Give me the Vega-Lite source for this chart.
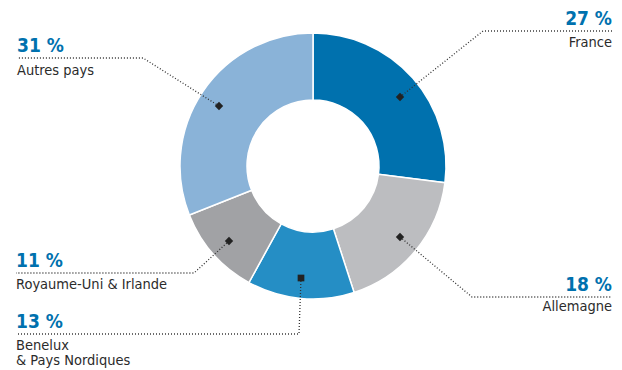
{
  "$schema": "https://vega.github.io/schema/vega-lite/v6.json",
  "width": 622,
  "height": 370,
  "padding": 0,
  "autosize": {"type": "none"},
  "background": "white",
  "config": {"view": {"stroke": null}},
  "datasets": {
    "parts": [
      {"pays": "France", "part": 27, "ordre": 1},
      {"pays": "Allemagne", "part": 18, "ordre": 2},
      {"pays": "Benelux & Pays Nordiques", "part": 13, "ordre": 3},
      {"pays": "Royaume-Uni & Irlande", "part": 11, "ordre": 4},
      {"pays": "Autres pays", "part": 31, "ordre": 5}
    ],
    "leaders": [
      {"pays": "France", "pt": 0, "x": 400, "y": 97},
      {"pays": "France", "pt": 1, "x": 483, "y": 31},
      {"pays": "France", "pt": 2, "x": 612, "y": 31},
      {"pays": "Autres pays", "pt": 0, "x": 219, "y": 106},
      {"pays": "Autres pays", "pt": 1, "x": 143, "y": 58},
      {"pays": "Autres pays", "pt": 2, "x": 17, "y": 58},
      {"pays": "Allemagne", "pt": 0, "x": 400, "y": 237},
      {"pays": "Allemagne", "pt": 1, "x": 472, "y": 297},
      {"pays": "Allemagne", "pt": 2, "x": 612, "y": 297},
      {"pays": "Royaume-Uni & Irlande", "pt": 0, "x": 229, "y": 241},
      {"pays": "Royaume-Uni & Irlande", "pt": 1, "x": 194, "y": 273},
      {"pays": "Royaume-Uni & Irlande", "pt": 2, "x": 16, "y": 273},
      {"pays": "Benelux & Pays Nordiques", "pt": 0, "x": 301, "y": 278},
      {"pays": "Benelux & Pays Nordiques", "pt": 1, "x": 299, "y": 334},
      {"pays": "Benelux & Pays Nordiques", "pt": 2, "x": 16, "y": 334}
    ],
    "pcts": [
      {"txt": "27 %", "x": 612, "y": 25, "side": "right"},
      {"txt": "31 %", "x": 17, "y": 52, "side": "left"},
      {"txt": "18 %", "x": 612, "y": 291, "side": "right"},
      {"txt": "11 %", "x": 16, "y": 267, "side": "left"},
      {"txt": "13 %", "x": 16, "y": 328, "side": "left"}
    ],
    "names": [
      {"txt": "France", "x": 612, "y": 47, "side": "right"},
      {"txt": "Autres pays", "x": 17, "y": 75, "side": "left"},
      {"txt": "Allemagne", "x": 612, "y": 311, "side": "right"},
      {"txt": "Royaume-Uni & Irlande", "x": 16, "y": 289, "side": "left"},
      {"txt": "Benelux", "x": 16, "y": 350, "side": "left"},
      {"txt": "& Pays Nordiques", "x": 16, "y": 365, "side": "left"}
    ]
  },
  "resolve": {"scale": {"x": "shared", "y": "shared"}},
  "layer": [
    {
      "data": {"name": "parts"},
      "mark": {"type": "arc", "outerRadius": 133, "innerRadius": 66, "stroke": "white", "strokeWidth": 1.5},
      "encoding": {
        "x": {"datum": 313, "type": "quantitative", "scale": {"domain": [0, 622], "nice": false, "zero": false}, "axis": null},
        "y": {"datum": 166, "type": "quantitative", "scale": {"domain": [0, 370], "reverse": true, "nice": false, "zero": false}, "axis": null},
        "theta": {"field": "part", "type": "quantitative", "stack": true},
        "order": {"field": "ordre", "type": "quantitative"},
        "color": {
          "field": "pays", "type": "nominal", "legend": null,
          "scale": {
            "domain": ["France", "Allemagne", "Benelux & Pays Nordiques", "Royaume-Uni & Irlande", "Autres pays"],
            "range": ["#0071ae", "#bcbdc0", "#258ec5", "#a1a2a5", "#8ab3d8"]
          }
        }
      }
    },
    {
      "data": {"name": "leaders"},
      "mark": {"type": "line", "stroke": "#333333", "strokeWidth": 1.3, "strokeDash": [1, 2]},
      "encoding": {
        "x": {"field": "x", "type": "quantitative", "axis": null},
        "y": {"field": "y", "type": "quantitative", "axis": null},
        "detail": {"field": "pays"},
        "order": {"field": "pt", "type": "quantitative"}
      }
    },
    {
      "data": {"name": "leaders"},
      "transform": [{"filter": "datum.pt == 0 && datum.pays != 'Benelux & Pays Nordiques'"}],
      "mark": {"type": "point", "shape": "diamond", "filled": true, "color": "#222222", "size": 70, "opacity": 1},
      "encoding": {
        "x": {"field": "x", "type": "quantitative", "axis": null},
        "y": {"field": "y", "type": "quantitative", "axis": null}
      }
    },
    {
      "data": {"name": "leaders"},
      "transform": [{"filter": "datum.pt == 0 && datum.pays == 'Benelux & Pays Nordiques'"}],
      "mark": {"type": "point", "shape": "square", "filled": true, "color": "#222222", "size": 45, "opacity": 1},
      "encoding": {
        "x": {"field": "x", "type": "quantitative", "axis": null},
        "y": {"field": "y", "type": "quantitative", "axis": null}
      }
    },
    {
      "data": {"name": "pcts"},
      "transform": [{"filter": "datum.side == 'left'"}],
      "mark": {"type": "text", "align": "left", "baseline": "alphabetic", "font": "DejaVu Sans Condensed, sans-serif", "fontSize": 19, "fontWeight": "bold", "color": "#0071ae"},
      "encoding": {
        "x": {"field": "x", "type": "quantitative", "axis": null},
        "y": {"field": "y", "type": "quantitative", "axis": null},
        "text": {"field": "txt"}
      }
    },
    {
      "data": {"name": "pcts"},
      "transform": [{"filter": "datum.side == 'right'"}],
      "mark": {"type": "text", "align": "right", "baseline": "alphabetic", "font": "DejaVu Sans Condensed, sans-serif", "fontSize": 19, "fontWeight": "bold", "color": "#0071ae"},
      "encoding": {
        "x": {"field": "x", "type": "quantitative", "axis": null},
        "y": {"field": "y", "type": "quantitative", "axis": null},
        "text": {"field": "txt"}
      }
    },
    {
      "data": {"name": "names"},
      "transform": [{"filter": "datum.side == 'left'"}],
      "mark": {"type": "text", "align": "left", "baseline": "alphabetic", "font": "DejaVu Sans Condensed, sans-serif", "fontSize": 14.5, "color": "#2b2b2b"},
      "encoding": {
        "x": {"field": "x", "type": "quantitative", "axis": null},
        "y": {"field": "y", "type": "quantitative", "axis": null},
        "text": {"field": "txt"}
      }
    },
    {
      "data": {"name": "names"},
      "transform": [{"filter": "datum.side == 'right'"}],
      "mark": {"type": "text", "align": "right", "baseline": "alphabetic", "font": "DejaVu Sans Condensed, sans-serif", "fontSize": 14.5, "color": "#2b2b2b"},
      "encoding": {
        "x": {"field": "x", "type": "quantitative", "axis": null},
        "y": {"field": "y", "type": "quantitative", "axis": null},
        "text": {"field": "txt"}
      }
    }
  ]
}
